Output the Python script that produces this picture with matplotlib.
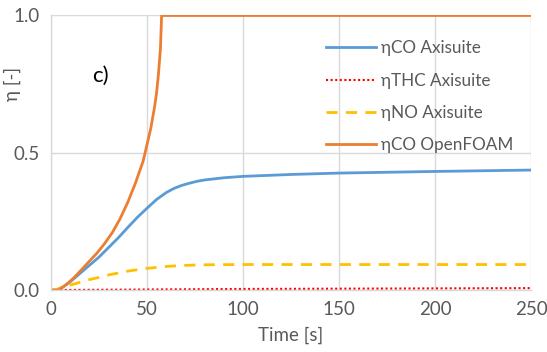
import matplotlib
matplotlib.use("Agg")
import matplotlib.pyplot as plt

plt.rcParams['font.family'] = ['Lato', 'DejaVu Sans']

# values
t_co_foam = [0, 4, 8, 12, 16, 20, 24, 28, 32, 36, 40, 44, 48, 50, 52, 54, 55, 56, 57, 57.6, 250]
co_foam = [0, 0, 0.02, 0.045, 0.075, 0.105, 0.135, 0.17, 0.21, 0.26, 0.32, 0.39, 0.47, 0.53,
           0.59, 0.67, 0.72, 0.79, 0.88, 1.0, 1.0]

t_co_axi = [0, 4, 10, 15, 20, 25, 30, 35, 40, 45, 50, 55, 60, 64, 68, 72, 76, 80, 90, 100,
            125, 150, 200, 250]
co_axi = [0, 0, 0.03, 0.06, 0.09, 0.12, 0.155, 0.19, 0.228, 0.265, 0.298, 0.33, 0.355, 0.37,
          0.381, 0.389, 0.396, 0.401, 0.409, 0.414, 0.421, 0.426, 0.432, 0.437]

t_no_axi = [0, 2, 5, 10, 15, 20, 25, 30, 40, 50, 60, 70, 80, 100, 250]
no_axi = [0, 0, 0.008, 0.018, 0.028, 0.038, 0.046, 0.055, 0.069, 0.079, 0.086, 0.09, 0.092, 0.093, 0.093]

t_thc_axi = [0, 50, 100, 150, 200, 250]
thc_axi = [0, 0.002, 0.004, 0.005, 0.006, 0.007]

grey = '#595959'
gridc = '#d9d9d9'

fig = plt.figure(figsize=(5.47, 3.52), dpi=100)
ax = fig.add_axes([0.0932, 0.176, 0.8778, 0.78])

ax.plot(t_co_axi, co_axi, color='#5b9bd5', lw=2, label='ηCO Axisuite')
ax.plot(t_thc_axi, thc_axi, color='#ff0000', lw=1.5, ls=(0, (1, 1.2)), label='ηTHC Axisuite')
ax.plot(t_no_axi, no_axi, color='#ffc000', lw=2, ls=(0, (4, 3)), label='ηNO Axisuite')
ax.plot(t_co_foam, co_foam, color='#ed7d31', lw=2, label='ηCO OpenFOAM')

ax.set_xlim(0, 250)
ax.set_ylim(0, 1)
ax.set_xticks([0, 50, 100, 150, 200, 250])
ax.set_yticks([0, 0.5, 1.0])
ax.set_yticklabels(['0.0', '0.5', '1.0'])
ax.grid(True, color=gridc, lw=1)
ax.set_axisbelow(True)
for s in ['top', 'right']:
    ax.spines[s].set_visible(False)
for s in ['left', 'bottom']:
    ax.spines[s].set_color(gridc)
    ax.spines[s].set_linewidth(1)
ax.tick_params(length=0, labelsize=13.5, labelcolor=grey, pad=8)

ax.set_xlabel('Time [s]', fontsize=13.5, color=grey)
ax.set_ylabel('η [-]', fontsize=13.5, color=grey)
ax.xaxis.set_label_coords(0.5, -0.135)
ax.yaxis.set_label_coords(-0.062, 0.75)

ax.text(25.5, 0.78, 'c)', fontsize=16, color='black', ha='center', va='center')

leg = ax.legend(loc='upper right', bbox_to_anchor=(0.995, 0.965), frameon=False,
                fontsize=12.3, handlelength=2.9, handletextpad=0.3, labelspacing=0.95)
for txt in leg.get_texts():
    txt.set_color(grey)

fig.savefig('out.png', dpi=100)
